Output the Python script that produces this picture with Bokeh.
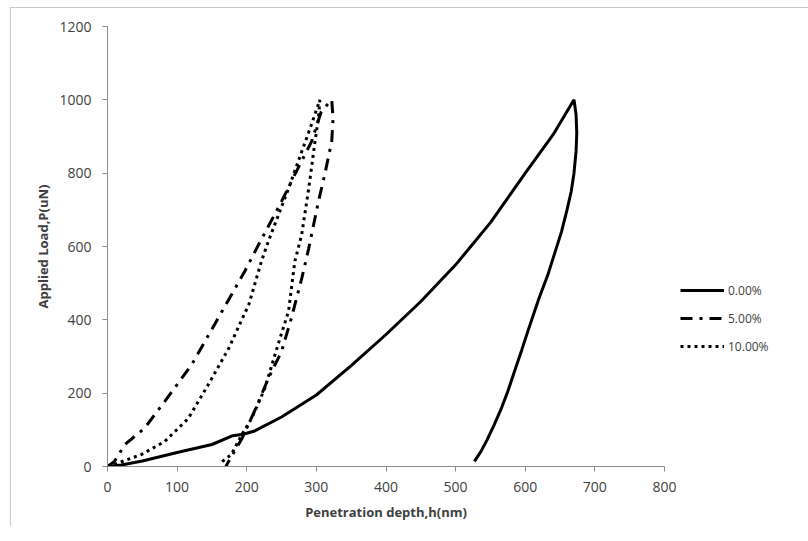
from bokeh.plotting import figure
from bokeh.models import Range1d, Legend, LegendItem, FixedTicker
from bokeh.embed import file_html
from bokeh.resources import INLINE

# 0.00% series (loading then unloading)
h0_load = [0, 20, 50, 100, 150, 180, 195, 210, 250, 300, 350, 400, 450, 500, 550, 600, 640, 670]
p0_load = [0, 4, 15, 38, 60, 84, 88, 96, 135, 195, 275, 360, 450, 550, 665, 800, 905, 1000]
h0_unload = [670, 673, 674, 673, 670, 666, 660, 652, 642, 632, 620, 605, 595, 585, 575, 566, 555, 545, 536, 527]
p0_unload = [1000, 960, 910, 860, 800, 750, 700, 640, 580, 520, 460, 376, 318, 262, 205, 160, 112, 72, 40, 14]

# 5.00% series
h5_load = [0, 10, 25, 53, 82, 121, 154, 197, 217, 250, 269, 293, 307, 322]
p5_load = [0, 14, 60, 104, 177, 278, 388, 532, 605, 723, 796, 886, 968, 1000]
h5_unload = [322, 324, 322, 312, 303, 289, 279, 264, 250, 231, 211, 193, 174, 170]
p5_unload = [1000, 950, 886, 796, 723, 595, 513, 404, 314, 240, 150, 76, 14, 0]

# 10.00% series
h10_load = [0, 13, 49, 82, 116, 145, 174, 203, 221, 231, 260, 279, 293, 305]
p10_load = [0, 8, 33, 68, 131, 224, 322, 442, 559, 614, 758, 859, 933, 1000]
h10_unload = [305, 303, 298, 289, 279, 269, 260, 245, 226, 207, 193, 178, 161]
p10_unload = [1000, 950, 886, 758, 633, 559, 423, 333, 213, 131, 87, 33, 8]

x_ticks = [0, 100, 200, 300, 400, 500, 600, 700, 800]
y_ticks = [0, 200, 400, 600, 800, 1000, 1200]
labels = ["0.00%", "5.00%", "10.00%"]

FONT = "Open Sans"
TXT = "#404040"
AX = "#8c8c8c"

p = figure(frame_width=557, frame_height=440, output_backend="svg", toolbar_location=None,
           x_range=Range1d(0, 800), y_range=Range1d(0, 1200),
           min_border_left=96, min_border_top=18, min_border_bottom=60, min_border_right=130,
           background_fill_color="white", border_fill_color="white")
p.styles = {"border-left": "1.5px solid #c8c8c8", "border-top": "1.5px solid #c8c8c8",
            "margin-left": "10px", "margin-top": "7px"}
p.outline_line_color = None
p.grid.visible = False

for ax in (p.xaxis[0], p.yaxis[0]):
    ax.axis_line_color = AX
    ax.major_tick_line_color = AX
    ax.minor_tick_line_color = None
    ax.major_tick_out = 5
    ax.major_tick_in = 0
    ax.major_label_text_font = FONT
    ax.major_label_text_font_size = "14px"
    ax.major_label_text_color = TXT
    ax.axis_label_text_font = FONT
    ax.axis_label_text_font_size = "13px"
    ax.axis_label_text_font_style = "bold"
    ax.axis_label_text_color = TXT

p.xaxis.ticker = FixedTicker(ticks=x_ticks)
p.yaxis.ticker = FixedTicker(ticks=y_ticks)
p.xaxis.axis_label = "Penetration depth,h(nm)"
p.yaxis.axis_label = "Applied Load,P(uN)"
p.xaxis.major_label_standoff = 10
p.yaxis.major_label_standoff = 11
p.xaxis.axis_label_standoff = 8
p.yaxis.axis_label_standoff = 4

r0 = p.line(h0_load + h0_unload[1:], p0_load + p0_unload[1:], line_color="black", line_width=3)
r5 = p.line(h5_load + h5_unload[1:], p5_load + p5_unload[1:], line_color="black", line_width=3,
            line_dash="12 7 3 7")
r10 = p.line(h10_load + h10_unload[1:], p10_load + p10_unload[1:], line_color="black", line_width=3,
             line_dash="3 4")

legend = Legend(items=[LegendItem(label=labels[0], renderers=[r0]),
                       LegendItem(label=labels[1], renderers=[r5]),
                       LegendItem(label=labels[2], renderers=[r10])],
                location=(16, 110), orientation="vertical", margin=0)
legend.border_line_color = None
legend.background_fill_alpha = 0
legend.label_text_font = FONT
legend.label_text_font_size = "12px"
legend.label_text_color = TXT
legend.glyph_width = 44
legend.spacing = 8
legend.label_standoff = 4
p.add_layout(legend, "right")

open("out.html", "w").write(file_html(p, INLINE))
